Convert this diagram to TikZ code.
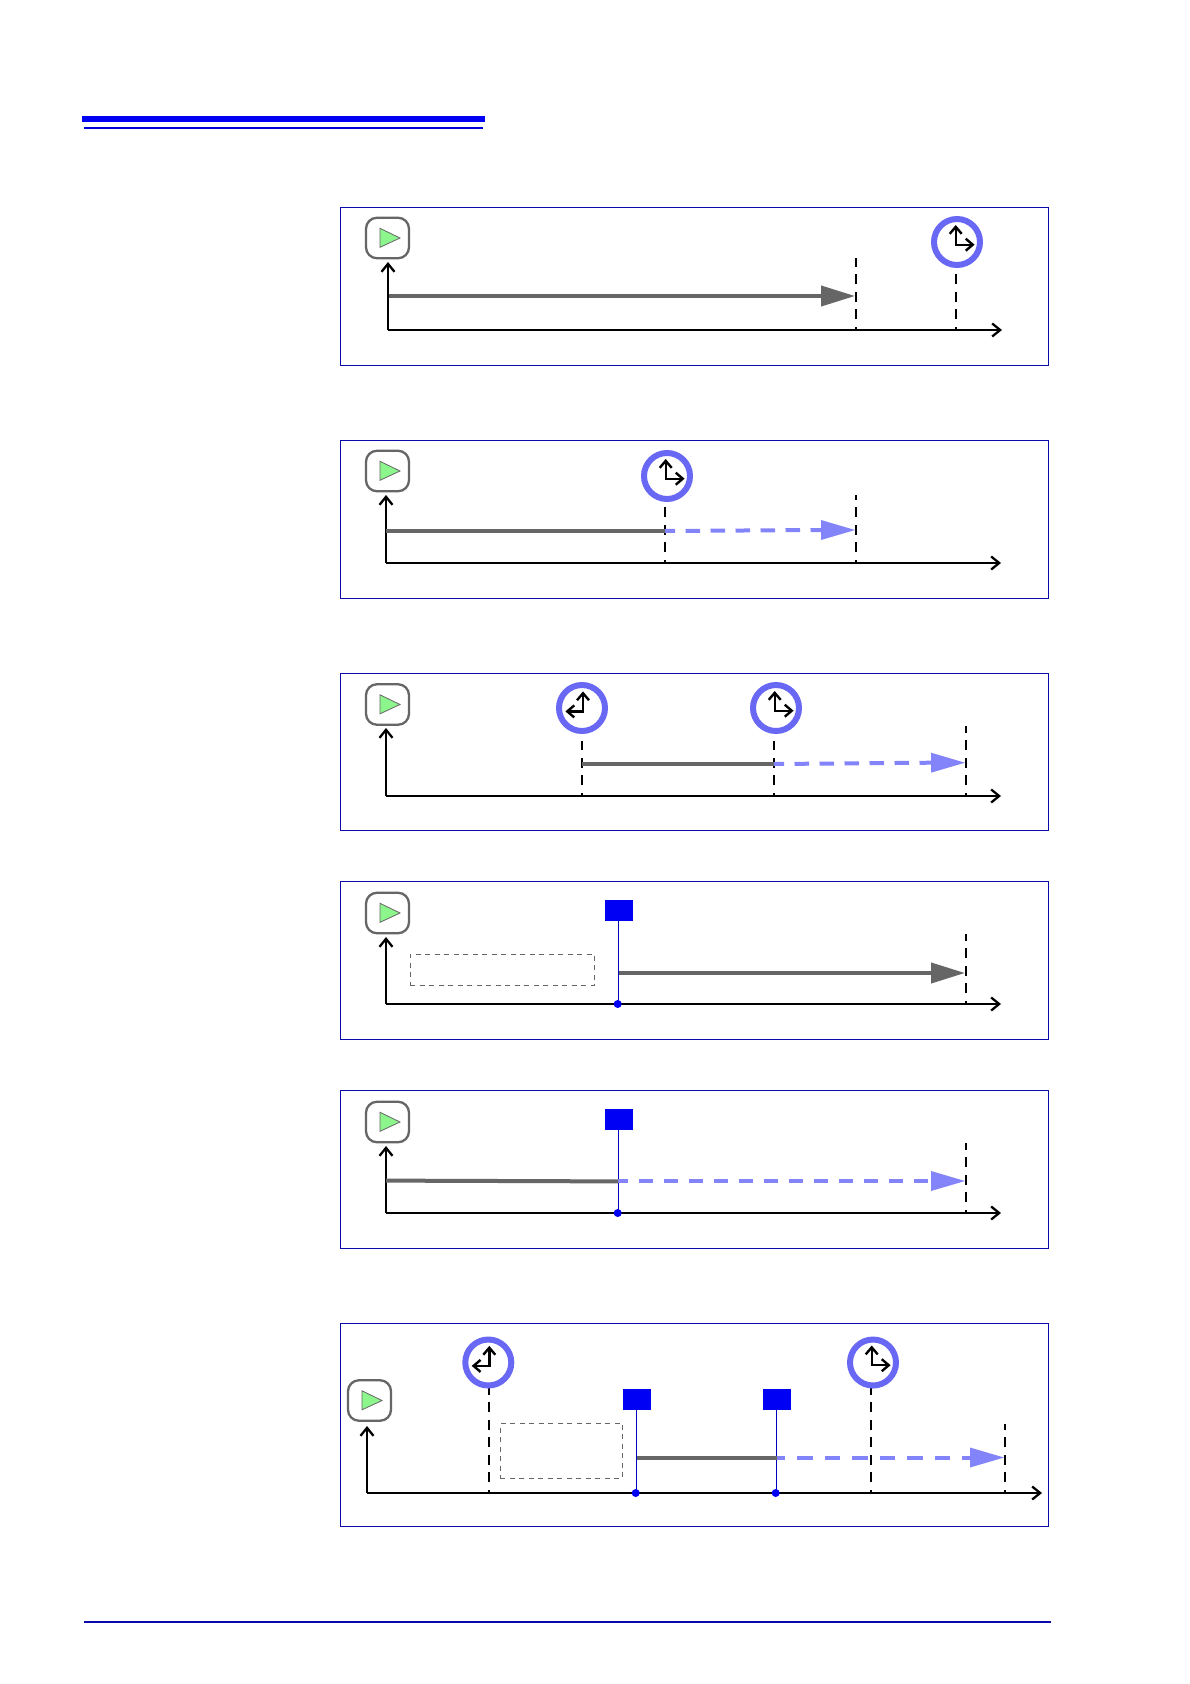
\documentclass[tikz,border=0pt]{standalone}
\usetikzlibrary{arrows.meta,calc}
\definecolor{framec}{RGB}{10,10,170}
\definecolor{rulec}{RGB}{0,0,245}
\definecolor{markc}{RGB}{0,0,190}
\definecolor{barc}{RGB}{102,102,102}
\definecolor{planc}{RGB}{132,132,250}
\definecolor{ringc}{RGB}{104,104,245}
\definecolor{trig}{RGB}{140,245,140}
\tikzset{
  x=1pt,y=-1pt,
  panelframe/.style={draw=framec,line width=1.4pt},
  axisline/.style={black,line width=2.3pt,-{Straight Barb[length=8pt,width=13pt,line width=2.3pt]}},
  guide/.style={black,line width=1.2pt,dash pattern=on 10pt off 7.5pt,dash phase=6.5pt},
  hardbar/.style={barc,line width=4pt},
  hardtip/.style={barc,line width=4pt,-{Triangle[length=34pt,width=20pt]}},
  softbar/.style={planc,line width=4pt,dash pattern=on 14.5pt off 10.5pt,dash phase=4.5pt},
  softbarlong/.style={planc,line width=4pt,dash pattern=on 15.5pt off 12pt,dash phase=7.4pt},
  softtip/.style={fill=planc,draw=none},
  playbox/.style={draw=barc,fill=white,line width=2.3pt,rounded corners=11pt,minimum width=43pt,minimum height=40.5pt,inner sep=0pt},
  playtri/.style={draw=barc,fill=trig,line width=.8pt},
  clockring/.style={circle,draw=ringc,line width=6pt,fill=white,minimum size=46pt,inner sep=0pt},
  hand/.style={black,line width=2.4pt,{Straight Barb[length=7pt,width=12pt,line width=2.4pt]}-{Straight Barb[length=7pt,width=12pt,line width=2.4pt]}},
  bluesq/.style={fill=rulec,minimum width=28pt,minimum height=21pt,inner sep=0pt},
  blueline/.style={markc,line width=1.4pt},
  bluedot/.style={circle,fill=rulec,minimum size=8pt,inner sep=0pt},
  gatebox/.style={draw=barc,line width=.7pt,dash pattern=on 5pt off 4.5pt,inner sep=0pt},
}
\newcommand{\playat}[3]{%
  \node[playbox] (#1) at (#2,#3) {};
  \draw[playtri] ([shift={(-7.5,-9.7)}]#1.center) -- ([shift={(-7.5,9.3)}]#1.center) -- ([shift={(12.5,0)}]#1.center) -- cycle;
}
\newcommand{\clockright}[3]{%
  \node[clockring] (#1) at (#2,#3) {};
  \coordinate (#1c) at ([shift={(-1.3,2.7)}]#1.center);
  \coordinate (#1u) at ([shift={(-1.3,-17)}]#1.center);
  \coordinate (#1s) at ([shift={(17.6,2.7)}]#1.center);
  \draw[hand] (#1u) -- (#1c) -- (#1s);
}
\newcommand{\clockleft}[3]{%
  \node[clockring] (#1) at (#2,#3) {};
  \coordinate (#1c) at ([shift={(1,3.4)}]#1.center);
  \coordinate (#1u) at ([shift={(1,-16.6)}]#1.center);
  \coordinate (#1s) at ([shift={(-16.6,3.4)}]#1.center);
  \draw[hand] (#1u) -- (#1c) -- (#1s);
}
% name, x, top of axis, axis y, right end
\newcommand{\axes}[5]{%
  \coordinate (#1o) at (#2,#4);
  \coordinate (#1t) at (#2,#3);
  \coordinate (#1r) at (#5,#4);
  \draw[axisline] (#1o) -- (#1t);
  \draw[axisline] (#1o) -- (#1r);
}
% name, x, top, bottom
\newcommand{\guideat}[4]{%
  \coordinate (#1a) at (#2,#3);
  \coordinate (#1b) at (#2,#4);
  \draw[guide] (#1b) -- (#1a);
}
% soft dashed bar with head: name, x1, x2, start y, head y, dash style
\newcommand{\softbarat}[6]{%
  \coordinate (#1a) at (#2,#4);
  \coordinate (#1b) at (#3,#5);
  \coordinate (#1m) at ([shift={(-34,0)}]#1b);
  \draw[#6] (#1a) -- (#1m);
  \fill[softtip] (#1b) -- ([shift={(0,-10)}]#1m) -- ([shift={(0,10)}]#1m) -- cycle;
}
\newcommand{\hardbarat}[5]{%
  \coordinate (#1a) at (#2,#4);
  \coordinate (#1b) at (#3,#5);
  \draw[hardbar] (#1a) -- (#1b);
}
% marker: name, x, square centre y, axis y
\newcommand{\marker}[4]{%
  \node[bluesq] (#1) at (#2,#3) {};
  \coordinate (#1e) at ([xshift=-.7pt]#1.south);
  \coordinate (#1f) at (#1e |- 0,#4);
  \draw[blueline] (#1e) -- (#1f);
  \node[bluedot] (#1d) at ([xshift=-.6pt]#1f) {};
}
\begin{document}
\begin{tikzpicture}
\useasboundingbox (0,0) rectangle (1190,1684);
\fill[white] (0,0) rectangle (1190,1684);
% header and footer rules
\fill[rulec] (82,116) rectangle (485,122);
\fill[rulec!90!black] (84,127) rectangle (483,129);
\fill[framec] (84,1621.2) rectangle (1050.5,1622.8);
% frames
\draw[panelframe] (340.5,207.5) rectangle (1048.5,365.5);
\draw[panelframe] (340.5,440.5) rectangle (1048.5,598.5);
\draw[panelframe] (340.5,673.5) rectangle (1048.5,830.5);
\draw[panelframe] (340.5,881.5) rectangle (1048.5,1039.5);
\draw[panelframe] (340.5,1090.5) rectangle (1048.5,1248.5);
\draw[panelframe] (340.5,1323.5) rectangle (1048.5,1526.5);
% panel 1
\guideat{ga}{856}{258}{330}
\guideat{gb}{956}{274}{330}
\axes{a}{388}{262}{330}{1002}
\playat{pa}{387.5}{238}
\clockright{ca}{957}{242}
\coordinate (ba) at (389,296);
\coordinate (bb) at (855,296);
\draw[hardtip] (ba) -- (bb);
% panel 2
\guideat{gc}{665}{507}{563}
\guideat{gd}{856}{495}{563}
\axes{b}{386}{495}{563}{1001}
\playat{pb}{387.5}{471}
\clockright{cb}{667}{476}
\hardbarat{bc}{386}{665}{530.7}{530.7}
\softbarat{sb}{665}{855}{531}{530}{softbar}
% panel 3
\guideat{ge}{582}{741}{796}
\guideat{gf}{774}{741}{796}
\guideat{gg}{966}{726}{796}
\axes{c}{386}{728}{796}{1001}
\playat{pc}{387.5}{704.5}
\clockleft{cc}{582}{708}
\clockright{cd}{776}{708}
\hardbarat{bd}{582}{774}{764}{764}
\softbarat{sc}{774}{965}{764}{762.7}{softbar}
% panel 4
\guideat{gh}{966}{934}{1004}
\axes{d}{386}{937}{1004}{1001}
\playat{pd}{387.5}{913}
\node[gatebox,minimum width=184.5pt,minimum height=31pt] (da) at (502.5,969.5) {};
\marker{ma}{619}{910.5}{1004}
\coordinate (be) at (619,973);
\coordinate (bf) at (965,973);
\draw[hardtip] (be) -- (bf);
% panel 5
\guideat{gi}{966}{1143}{1213}
\axes{e}{386}{1146}{1213}{1001}
\playat{pe}{387.5}{1122}
\marker{mb}{619}{1119.5}{1213}
\hardbarat{bg}{386}{618}{1180.6}{1181.4}
\softbarat{sd}{618}{965}{1181}{1181}{softbar}
% panel 6
\guideat{gj}{489}{1388}{1493}
\guideat{gk}{871}{1388}{1493}
\guideat{gl}{1005}{1424}{1493}
\axes{f}{367}{1426}{1493}{1042}
\playat{pf}{369.5}{1400.5}
\clockleft{ce}{488.3}{1362.5}
\clockright{cf}{873}{1362.5}
\node[gatebox,minimum width=122.4pt,minimum height=55pt] (db) at (561.5,1450.8) {};
\marker{mc}{637}{1399.5}{1493}
\marker{md}{777}{1399.5}{1493}
\hardbarat{bh}{637}{777}{1457.5}{1457.5}
\softbarat{se}{777}{1004}{1457.5}{1457.5}{softbarlong}
\end{tikzpicture}
\end{document}
